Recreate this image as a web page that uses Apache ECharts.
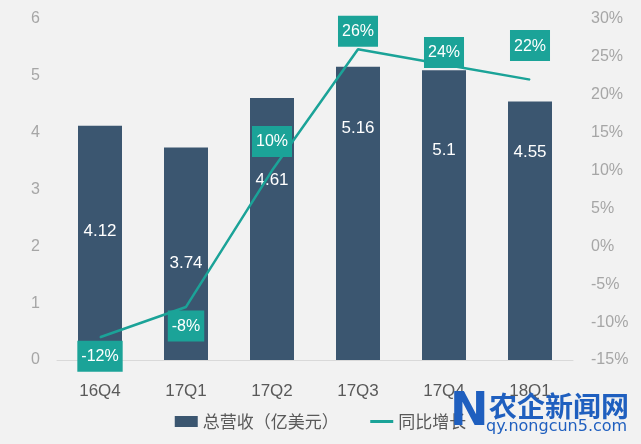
<!DOCTYPE html>
<html>
<head>
<meta charset="utf-8">
<script src="https://cdn.jsdelivr.net/npm/echarts@6/dist/echarts.min.js"></script>
<style>
html,body{margin:0;padding:0;background:#f2f2f2;}
#c{width:641px;height:444px;}
</style>
</head>
<body>
<div id="c"></div>
<script>
var categories = ['16Q4', '17Q1', '17Q2', '17Q3', '17Q4', '18Q1'];
var revenue = [4.12, 3.74, 4.61, 5.16, 5.1, 4.55];
var growth = [-12, -8, 10, 26, 24, 22];
var revenueName = '总营收（亿美元）';
var growthName = '同比增长';

// label placement (style only)
var barLabelOffsets = [-12, 10, -49, -85, -65, -78];
var lineLabelPos = ['bottom', 'bottom', 'top', 'top', 'top', 'top'];
var lineLabelDist = [3, 3, 13, 2, -4, 18];

var BAR = '#3b5670';
var TEAL = '#1ba398';

var chart = echarts.init(document.getElementById('c'));
chart.setOption({
  backgroundColor: '#f2f2f2',
  animation: false,
  grid: {left: 57, right: 68, top: 19, bottom: 84, containLabel: false},
  legend: {
    bottom: 9, left: 'center', itemGap: 30, itemWidth: 23, itemHeight: 11,
    textStyle: {fontSize: 17, color: '#595959', fontFamily: 'Noto Sans CJK SC'},
    data: [
      {name: revenueName, icon: 'rect'},
      {name: growthName, itemStyle: {opacity: 0}, lineStyle: {width: 3}}
    ]
  },
  xAxis: {
    type: 'category', data: categories,
    axisLine: {lineStyle: {color: '#d9d9d9'}},
    axisTick: {show: false},
    axisLabel: {fontSize: 17, color: '#595959', margin: 23, fontFamily: 'Liberation Sans'}
  },
  yAxis: [
    {type: 'value', min: 0, max: 6, interval: 1, splitLine: {show: false},
     axisLabel: {fontSize: 16, color: '#a6a6a6', margin: 17, fontFamily: 'Liberation Sans'}},
    {type: 'value', min: -15, max: 30, interval: 5, splitLine: {show: false},
     axisLabel: {fontSize: 16, color: '#a6a6a6', margin: 18, formatter: '{value}%', align: 'left', fontFamily: 'Liberation Sans'}}
  ],
  series: [
    {
      name: revenueName, type: 'bar', barWidth: 44, yAxisIndex: 0,
      itemStyle: {color: BAR},
      data: revenue.map(function (v, i) {
        return {value: v, label: {offset: [0, barLabelOffsets[i]]}};
      }),
      label: {show: true, position: 'inside', color: '#fff', fontSize: 17, fontFamily: 'Liberation Sans'}
    },
    {
      name: growthName, type: 'line', yAxisIndex: 1, symbol: 'circle', symbolSize: 1, showSymbol: true,
      lineStyle: {color: TEAL, width: 2.5}, itemStyle: {color: TEAL},
      data: growth.map(function (v, i) {
        return {value: v, label: {position: lineLabelPos[i], distance: lineLabelDist[i]}};
      }),
      label: {show: true, formatter: '{c}%', color: '#fff', fontSize: 16,
        backgroundColor: TEAL, padding: [8, 4, 7, 4], fontFamily: 'Liberation Sans'},
      z: 5
    }
  ],
  graphic: [
    {type: 'text', left: 489, top: 392, z: 100, style: {text: '农企新闻网', fill: '#1f5fbf', fontSize: 28, fontWeight: 'bold', fontFamily: 'Noto Sans CJK SC'}},
    {type: 'text', left: 486, top: 419, z: 100, style: {text: 'qy.nongcun5.com', fill: '#1f5fbf', fontSize: 16, fontFamily: 'DejaVu Sans'}},
    {type: 'text', left: 450, top: 390, z: 100, style: {text: 'N', fill: '#1f5fbf', fontSize: 46, fontWeight: 'bold', fontFamily: 'DejaVu Sans'}}
  ]
});
</script>
</body>
</html>
